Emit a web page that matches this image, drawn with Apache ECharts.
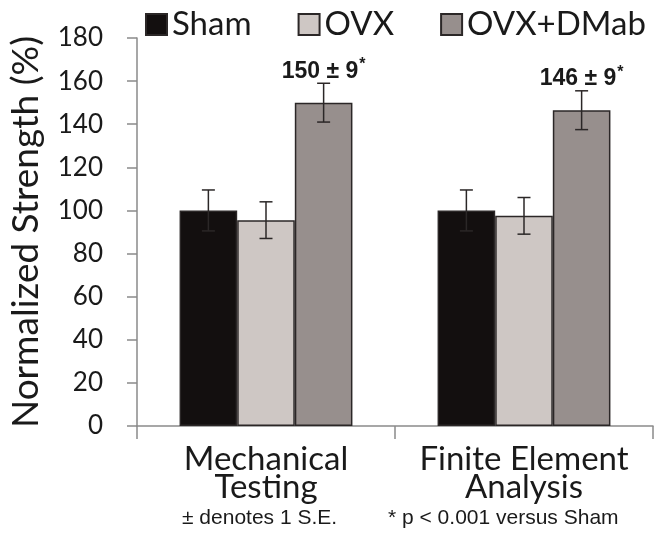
<!DOCTYPE html>
<html>
<head>
<meta charset="utf-8">
<script src="https://cdn.jsdelivr.net/npm/echarts@6/dist/echarts.min.js"></script>
<style>html,body{margin:0;padding:0;background:#fff}#c{width:659px;height:543px}</style>
</head>
<body>
<div id="c"></div>
<script>
const categories = ['Mechanical\nTesting', 'Finite Element\nAnalysis'];
const seriesNames = ['Sham', 'OVX', 'OVX+DMab'];
const shamValues = [100, 100];
const shamErrors = [9.5, 9.5];
const ovxValues = [95.5, 97.5];
const ovxErrors = [8.5, 8.5];
const dmabValues = [150, 146.5];
const dmabErrors = [9, 9];
const dmabAnnotations = ['150 ± 9', '146 ± 9'];
const yTicks = { min: 0, max: 180, interval: 20 };
const footnotes = ['± denotes 1 S.E.', '* p < 0.001 versus Sham'];

const colors = ['#130f0f', '#cec7c4', '#978f8d'];
const values = [shamValues, ovxValues, dmabValues];
const errors = [shamErrors, ovxErrors, dmabErrors];
const catGap = 0.33;

const chart = echarts.init(document.getElementById('c'), null, { renderer: 'canvas' });

const series = [];
seriesNames.forEach((name, si) => {
  const s = {
    name: name,
    type: 'bar',
    data: values[si],
    barGap: '0%',
    barCategoryGap: (catGap * 100) + '%',
    itemStyle: { color: colors[si], borderColor: '#2b2727', borderWidth: 1.5 },
    emphasis: { disabled: true },
    z: 2
  };
  if (si === 2) {
    s.label = {
      show: true,
      position: 'top',
      distance: 20,
      formatter: p => '{v|' + dmabAnnotations[p.dataIndex] + '}{s|*}',
      rich: {
        v: { fontFamily: 'Liberation Sans', fontWeight: 'bold', fontSize: 23, color: '#1a1a1a', lineHeight: 26, verticalAlign: 'bottom' },
        s: { fontFamily: 'Liberation Sans', fontWeight: 'bold', fontSize: 16, color: '#1a1a1a', lineHeight: 26, verticalAlign: 'top', padding: [0, 0, 14, 1] }
      }
    };
  }
  series.push(s);
});

// error bars
seriesNames.forEach((name, si) => {
  series.push({
    type: 'custom',
    name: name + ' err',
    data: values[si].map((v, i) => [i, v, errors[si][i]]),
    z: 5,
    silent: true,
    renderItem: (params, api) => {
      const ci = api.value(0), v = api.value(1), e = api.value(2);
      const band = api.size([1, 0])[0];
      const bw = band * (1 - catGap) / 3;
      const c = api.coord([ci, v]);
      const x = c[0] + (si - 1) * bw;
      const top = api.coord([ci, v + e])[1];
      const bot = api.coord([ci, v - e])[1];
      const cap = 6.5;
      const st = { stroke: '#2b2727', lineWidth: 1.5 };
      return {
        type: 'group',
        children: [
          { type: 'line', shape: { x1: x, y1: top, x2: x, y2: bot }, style: st },
          { type: 'line', shape: { x1: x - cap, y1: top, x2: x + cap, y2: top }, style: st },
          { type: 'line', shape: { x1: x - cap, y1: bot, x2: x + cap, y2: bot }, style: st }
        ]
      };
    }
  });
});

chart.setOption({
  animation: false,
  backgroundColor: '#ffffff',
  grid: { left: 136, right: 6, top: 38, bottom: 117, containLabel: false },
  legend: {
    data: seriesNames,
    left: 140,
    top: 3,
    width: 560,
    itemWidth: 21,
    itemHeight: 21,
    itemGap: 46,
    icon: 'rect',
    textStyle: { fontFamily: 'Lato', fontSize: 33, color: '#1a1a1a' },
    selectedMode: false
  },
  xAxis: {
    type: 'category',
    data: categories,
    axisLine: { lineStyle: { color: '#8a8a8a', width: 1.5 } },
    axisTick: { show: true, length: 13, lineStyle: { color: '#8a8a8a', width: 1.5 } },
    axisLabel: { interval: 0, hideOverlap: false, fontFamily: 'Lato', fontSize: 33, color: '#1a1a1a', lineHeight: 28, margin: 19 }
  },
  yAxis: {
    type: 'value',
    min: yTicks.min,
    max: yTicks.max,
    interval: yTicks.interval,
    name: 'Normalized Strength (%)',
    nameLocation: 'middle',
    nameGap: 92,
    nameTextStyle: { fontFamily: 'Lato', fontSize: 37, color: '#1a1a1a' },
    splitLine: { show: false },
    axisLine: { show: true, lineStyle: { color: '#8a8a8a', width: 1.5 } },
    axisTick: { show: true, length: 10, lineStyle: { color: '#8a8a8a', width: 1.5 } },
    axisLabel: { fontFamily: 'Lato', fontSize: 26, color: '#1a1a1a', margin: 34 }
  },
  graphic: [
    { type: 'text', left: 182, top: 508, style: { text: footnotes[0], font: '21px "Liberation Sans"', fill: '#1a1a1a' } },
    { type: 'text', left: 388, top: 508, style: { text: footnotes[1], font: '21px "Liberation Sans"', fill: '#1a1a1a' } }
  ],
  series: series
});
</script>
</body>
</html>
